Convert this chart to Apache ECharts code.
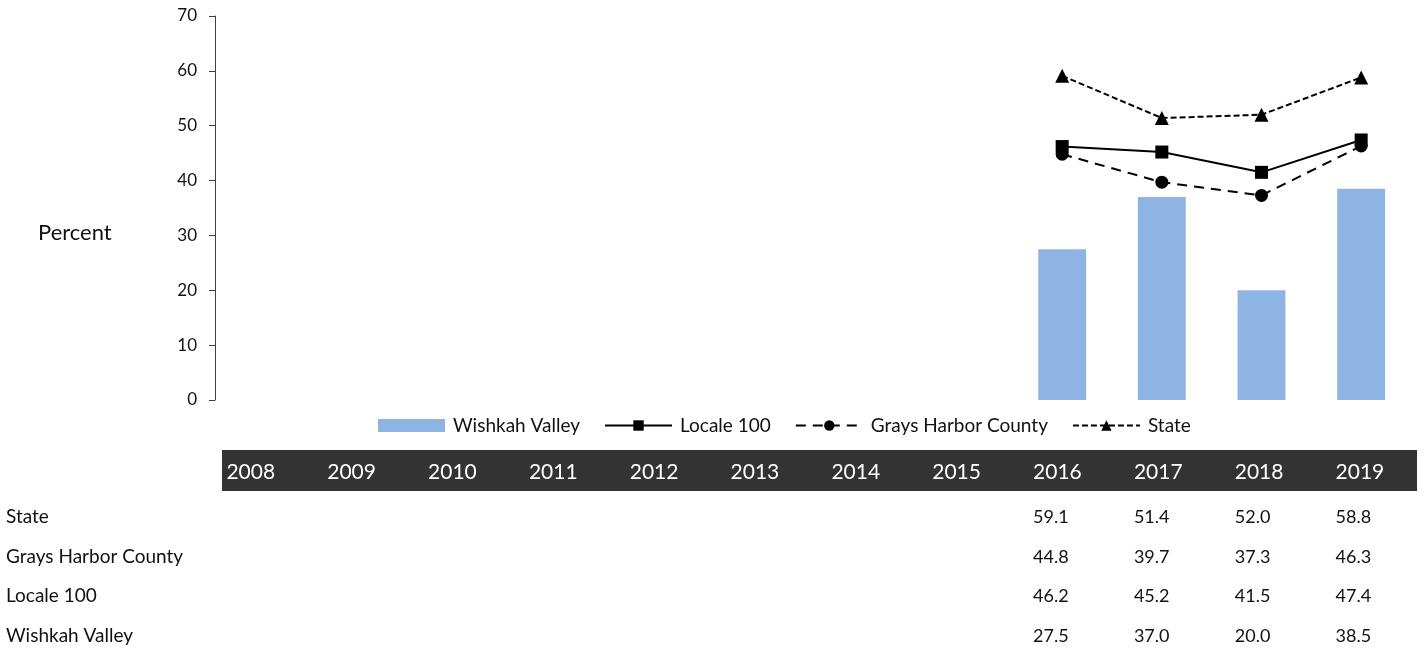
<!DOCTYPE html>
<html>
<head>
<meta charset="utf-8">
<script src="https://cdn.jsdelivr.net/npm/echarts@6/dist/echarts.min.js"></script>
<style>
  html, body { margin: 0; padding: 0; background: #ffffff; }
  #chart { width: 1424px; height: 650px; }
</style>
</head>
<body>
<div id="chart"></div>
<script>
// School years shown on the category axis and in the table header
const years = ['2008', '2009', '2010', '2011', '2012', '2013', '2014', '2015', '2016', '2017', '2018', '2019'];

// Percent values per year (null = no data reported)
const wishkahValley = [null, null, null, null, null, null, null, null, 27.5, 37.0, 20.0, 38.5];
const locale100     = [null, null, null, null, null, null, null, null, 46.2, 45.2, 41.5, 47.4];
const graysHarbor   = [null, null, null, null, null, null, null, null, 44.8, 39.7, 37.3, 46.3];
const stateWide     = [null, null, null, null, null, null, null, null, 59.1, 51.4, 52.0, 58.8];

// Value axis range
const yMin = 0;
const yMax = 70;
const yStep = 10;

// Table rows below the chart, top to bottom
const tableRows = [
  { label: 'State', values: stateWide },
  { label: 'Grays Harbor County', values: graysHarbor },
  { label: 'Locale 100', values: locale100 },
  { label: 'Wishkah Valley', values: wishkahValley }
];

const FONT = 'Lato, "Open Sans", sans-serif';
const TEXT = '#111111';

const chart = echarts.init(document.getElementById('chart'), null, { renderer: 'canvas' });

// Table: one hidden category axis per row, drawn under the plot
const tableRowOffsets = [45, 85, 124, 164];
const tableXAxes = [
  {
    type: 'category', gridIndex: 1, data: years, position: 'bottom', offset: 0,
    axisLine: { show: false }, axisTick: { show: false },
    axisLabel: {
      interval: 0, margin: 0, align: 'left', verticalAlign: 'middle',
      color: '#ffffff', fontSize: 21, fontFamily: FONT
    }
  }
].concat(tableRows.map((row, r) => ({
  type: 'category', gridIndex: 1, data: years, position: 'bottom', offset: tableRowOffsets[r],
  axisLine: { show: false }, axisTick: { show: false },
  axisLabel: {
    interval: 0, margin: 0, align: 'left', verticalAlign: 'middle',
    color: TEXT, fontSize: 18, fontFamily: FONT,
    formatter: (v, i) => (row.values[i] == null ? '' : row.values[i].toFixed(1))
  }
})));

const option = {
  backgroundColor: '#ffffff',
  animation: false,
  grid: [
    { left: 215, right: 13, top: 16, height: 384 },
    { left: 176, right: 38, top: 400, height: 72 }
  ],
  legend: {
    left: 373, top: 411,
    itemWidth: 67, itemHeight: 13, itemGap: 24,
    textStyle: { color: TEXT, fontSize: 19, fontFamily: FONT, padding: [0, 0, 0, 3] },
    data: [
      { name: 'Wishkah Valley', icon: 'rect' },
      'Locale 100', 'Grays Harbor County', 'State'
    ]
  },
  xAxis: [
    {
      type: 'category', gridIndex: 0, data: years,
      axisLine: { show: false }, axisTick: { show: false }, axisLabel: { show: false }
    }
  ].concat(tableXAxes),
  yAxis: [
    {
      type: 'value', gridIndex: 0, min: yMin, max: yMax, interval: yStep,
      axisLine: { show: true, lineStyle: { color: '#404040', width: 1 } },
      axisTick: { show: true, length: 6, lineStyle: { color: '#404040' } },
      splitLine: { show: false },
      axisLabel: { color: TEXT, fontSize: 17, fontFamily: FONT, margin: 18 }
    },
    { type: 'value', gridIndex: 1, show: false }
  ],
  graphic: [
    {
      type: 'rect', z: -1,
      shape: { x: 222, y: 450, width: 1195, height: 41 },
      style: { fill: '#333333' }
    },
    {
      type: 'text', left: 38, top: 222,
      style: { text: 'Percent', fill: TEXT, font: '22px ' + FONT }
    }
  ].concat(tableRows.map((row, r) => ({
    type: 'text', left: 6, top: 472 + tableRowOffsets[r] - 10,
    style: { text: row.label, fill: TEXT, font: '19px ' + FONT }
  }))),
  series: [
    {
      name: 'Wishkah Valley', type: 'bar', xAxisIndex: 0, yAxisIndex: 0,
      data: wishkahValley, barWidth: '48%',
      itemStyle: { color: '#8eb4e3' }, z: 1
    },
    {
      name: 'Locale 100', type: 'line', xAxisIndex: 0, yAxisIndex: 0,
      data: locale100, symbol: 'rect', symbolSize: 13,
      lineStyle: { color: '#000000', width: 2, type: 'solid' },
      itemStyle: { color: '#000000' }, z: 4
    },
    {
      name: 'Grays Harbor County', type: 'line', xAxisIndex: 0, yAxisIndex: 0,
      data: graysHarbor, symbol: 'circle', symbolSize: 13,
      lineStyle: { color: '#000000', width: 2, type: [10, 7] },
      itemStyle: { color: '#000000' }, z: 3
    },
    {
      name: 'State', type: 'line', xAxisIndex: 0, yAxisIndex: 0,
      data: stateWide, symbol: 'triangle', symbolSize: 14,
      lineStyle: { color: '#000000', width: 2, type: [6, 3] },
      itemStyle: { color: '#000000' }, z: 3
    }
  ]
};

chart.setOption(option);
</script>
</body>
</html>
